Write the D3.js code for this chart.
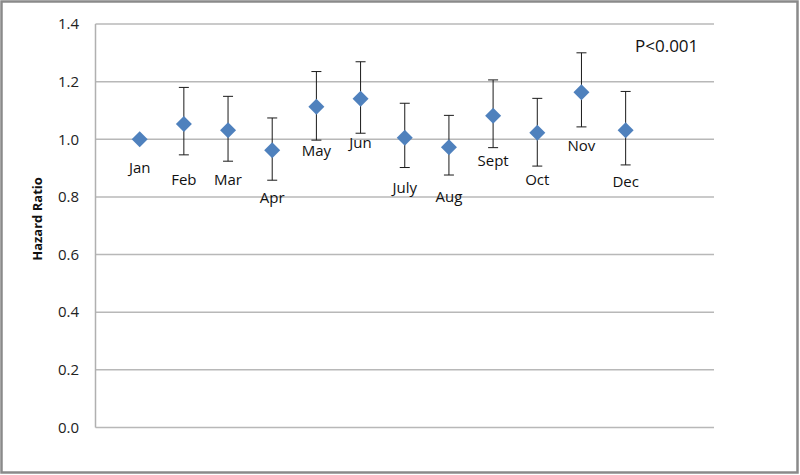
<!DOCTYPE html>
<html lang="en">
<head>
    <meta charset="UTF-8">
    <title>Hazard Ratio by Month</title>
    <script src="https://d3js.org/d3.v7.min.js"></script>
    <style>
        body { margin: 0; background: #fff; }
        svg { display: block; font-family: "Open Sans", "Noto Sans", sans-serif; }
        .grid line { stroke: #b8b8b8; stroke-width: 1.5; }
        .tick-label { font-size: 15px; fill: #222; }
        .month-label { font-size: 15px; fill: #111; }
    </style>
</head>
<body>
    <div id="chart"></div>
    <script>
        // Data
        const months = ["Jan", "Feb", "Mar", "Apr", "May", "Jun", "July", "Aug", "Sept", "Oct", "Nov", "Dec"];
        const hazard = [1.000, 1.053, 1.031, 0.962, 1.113, 1.141, 1.005, 0.972, 1.082, 1.023, 1.163, 1.031];
        const upper  = [null, 1.180, 1.149, 1.074, 1.235, 1.269, 1.125, 1.083, 1.206, 1.142, 1.300, 1.166];
        const lower  = [null, 0.946, 0.924, 0.858, 0.997, 1.021, 0.902, 0.876, 0.971, 0.907, 1.043, 0.911];
        const yTicks = [0.0, 0.2, 0.4, 0.6, 0.8, 1.0, 1.2, 1.4];

        // label placement below each point (pixels, hand placed in the original)
        const labelDy = [28, 56, 49, 48, 44, 44, 50, 49, 45, 47, 53, 51];

        const W = 800, H = 475;
        const margin = {top: 24, right: 86, bottom: 47.5, left: 95.5};

        const svg = d3.select("#chart").append("svg")
            .attr("width", W)
            .attr("height", H);

        // outer frame
        svg.append("rect")
            .attr("x", 1.5).attr("y", 1.5)
            .attr("width", W - 4).attr("height", H - 4)
            .attr("fill", "#fff")
            .attr("stroke", "#8a8a8a")
            .attr("stroke-width", 2.5);

        const x = d3.scaleLinear().domain([0, 14]).range([margin.left, W - margin.right]);
        const y = d3.scaleLinear().domain([0, 1.4]).range([H - margin.bottom, margin.top]);

        // gridlines
        svg.append("g").attr("class", "grid")
            .selectAll("line")
            .data(yTicks)
            .enter().append("line")
            .attr("x1", x(0)).attr("x2", x(14))
            .attr("y1", d => y(d)).attr("y2", d => y(d));

        // left axis line
        svg.append("line")
            .attr("x1", x(0)).attr("x2", x(0))
            .attr("y1", y(0)).attr("y2", y(1.4))
            .attr("stroke", "#b0b0b0").attr("stroke-width", 1.5);

        // y tick labels
        svg.append("g")
            .selectAll("text")
            .data(yTicks)
            .enter().append("text")
            .attr("class", "tick-label")
            .attr("x", 79)
            .attr("y", d => y(d))
            .attr("dy", "0.35em")
            .attr("text-anchor", "end")
            .text(d => d3.format(".1f")(d));

        // y axis title
        svg.append("text")
            .attr("transform", "translate(42," + 219 + ") rotate(-90)")
            .attr("text-anchor", "middle")
            .style("font-size", "13px")
            .style("font-weight", "bold")
            .attr("fill", "#111")
            .text("Hazard Ratio");

        const pts = months.map((m, i) => ({m, i, hr: hazard[i], lo: lower[i], hi: upper[i]}));

        // error bars
        const eb = svg.append("g")
            .selectAll("g")
            .data(pts.filter(d => d.hi != null))
            .enter().append("g")
            .attr("stroke", "#1a1a1a")
            .attr("stroke-width", 1);

        eb.append("line")
            .attr("x1", d => x(d.i + 1)).attr("x2", d => x(d.i + 1))
            .attr("y1", d => y(d.lo)).attr("y2", d => y(d.hi));
        eb.append("line")
            .attr("x1", d => x(d.i + 1) - 5).attr("x2", d => x(d.i + 1) + 5)
            .attr("y1", d => y(d.hi)).attr("y2", d => y(d.hi));
        eb.append("line")
            .attr("x1", d => x(d.i + 1) - 5).attr("x2", d => x(d.i + 1) + 5)
            .attr("y1", d => y(d.lo)).attr("y2", d => y(d.lo));

        // diamond markers
        svg.append("g")
            .selectAll("path")
            .data(pts)
            .enter().append("path")
            .attr("transform", d => "translate(" + x(d.i + 1) + "," + y(d.hr) + ")")
            .attr("d", "M0,-8L8,0L0,8L-8,0Z")
            .attr("fill", "#4f81bd");

        // month labels
        svg.append("g")
            .selectAll("text")
            .data(pts)
            .enter().append("text")
            .attr("class", "month-label")
            .attr("x", d => x(d.i + 1))
            .attr("y", (d, i) => y(d.hr) + labelDy[i])
            .attr("dy", "0.35em")
            .attr("text-anchor", "middle")
            .text(d => d.m);

        // p-value note
        svg.append("text")
            .attr("x", 635)
            .attr("y", 46)
            .attr("dy", "0.35em")
            .style("font-size", "17px")
            .attr("fill", "#111")
            .text("P<0.001");
    </script>
</body>
</html>
